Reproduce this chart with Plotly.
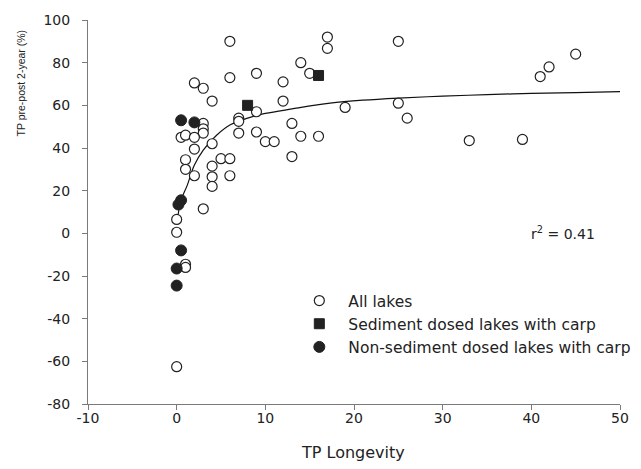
import plotly.graph_objects as go

# All lakes (open circles)
all_x = [6, 17, 17, 14, 15, 6, 9, 12, 2, 3, 4, 12, 9, 19, 3, 3, 3, 7, 7, 7,
         0.5, 1, 2, 4, 2, 9, 10, 11, 13, 14, 16, 13, 1, 5, 6, 1, 2, 4, 4, 6,
         4, 3, 0, 0, 1, 1, 0, 25, 45, 42, 41, 25, 26, 33, 39]
all_y = [90, 92, 86.7, 80, 75, 73, 75, 71, 70.5, 68, 62, 62, 57, 59, 51.5, 49, 47, 54, 52.5, 47,
         45, 46, 45, 42, 39.5, 47.5, 43, 43, 51.5, 45.5, 45.5, 36, 34.5, 35, 35, 30, 27, 31.5, 26.5, 27,
         22, 11.5, 6.5, 0.5, -14.5, -16, -62.5, 90, 84, 78, 73.5, 61, 54, 43.5, 44]

# Sediment dosed lakes with carp (filled squares)
sed_x = [8, 16]
sed_y = [60, 74]

# Non-sediment dosed lakes with carp (filled circles)
non_x = [0.5, 2, 0.5, 0.2, 0.5, 0, 0]
non_y = [53, 52, 15.5, 13.5, -8, -16.5, -24.5]

# Fitted curve
fit_x = [0.05, 0.45, 1.2, 2, 3, 4.5, 6.1, 8, 10, 13, 17.3, 21, 25, 30, 35, 40, 45, 50]
fit_y = [5, 15, 22.6, 32, 39, 46, 51, 54, 56.2, 58.3, 61, 62.4, 63.4, 64.3, 65, 65.6, 66, 66.4]

x_ticks = [-10, 0, 10, 20, 30, 40, 50]
y_ticks = [-80, -60, -40, -20, 0, 20, 40, 60, 80, 100]

TXT = "#222222"
AX = "#7a7a7a"
FONT = "DejaVu Sans"

fig = go.Figure()
fig.add_trace(go.Scatter(x=fit_x, y=fit_y, mode="lines", line=dict(color="#111111", width=1.2, shape="spline"),
                         showlegend=False, hoverinfo="skip"))
fig.add_trace(go.Scatter(x=all_x, y=all_y, mode="markers", name="All lakes",
                         marker=dict(symbol="circle", size=10, color="white",
                                     line=dict(color="#222222", width=1.2))))
fig.add_trace(go.Scatter(x=sed_x, y=sed_y, mode="markers", name="Sediment dosed lakes with carp",
                         marker=dict(symbol="square", size=10, color="#222222",
                                     line=dict(color="#222222", width=1))))
fig.add_trace(go.Scatter(x=non_x, y=non_y, mode="markers", name="Non-sediment dosed lakes with carp",
                         marker=dict(symbol="circle", size=11, color="#222222",
                                     line=dict(color="#222222", width=1))))

axis_common = dict(showgrid=False, zeroline=False, showline=True, linecolor=AX, linewidth=1,
                   ticks="outside", ticklen=5, tickcolor=AX, tickwidth=1,
                   tickfont=dict(family=FONT, size=14, color=TXT))
fig.update_xaxes(range=[-10, 50], tickvals=x_ticks, ticktext=[str(v) for v in x_ticks],
                 ticklabelstandoff=-4, **axis_common)
fig.update_yaxes(range=[-80, 100], tickvals=y_ticks, ticktext=[str(v) for v in y_ticks],
                 ticklabelstandoff=9, **axis_common)

fig.add_annotation(text="TP Longevity", xref="paper", yref="paper", x=0.498, y=-0.126,
                   xanchor="center", yanchor="middle", showarrow=False,
                   font=dict(family=FONT, size=16, color=TXT))
fig.add_annotation(text="TP pre-post 2-year (%)", xref="paper", yref="paper", x=-0.1268, y=0.836,
                   xanchor="center", yanchor="middle", showarrow=False, textangle=-90,
                   font=dict(family="Liberation Sans", size=10.5, color=TXT))
fig.add_annotation(text="r<sup>2</sup> = 0.41", x=43.6, y=0, xref="x", yref="y",
                   xanchor="center", yanchor="middle", showarrow=False,
                   font=dict(family=FONT, size=14, color=TXT))

fig.update_layout(
    width=641, height=461,
    margin=dict(l=79.5, r=29, t=12, b=65, autoexpand=False),
    paper_bgcolor="white", plot_bgcolor="white",
    showlegend=True,
    legend=dict(x=0.3803, y=0.3125, xanchor="left", yanchor="top", bgcolor="rgba(0,0,0,0)",
                font=dict(family=FONT, size=15.5, color=TXT), itemwidth=48, tracegroupgap=0),
)

fig.write_html("out.html")
